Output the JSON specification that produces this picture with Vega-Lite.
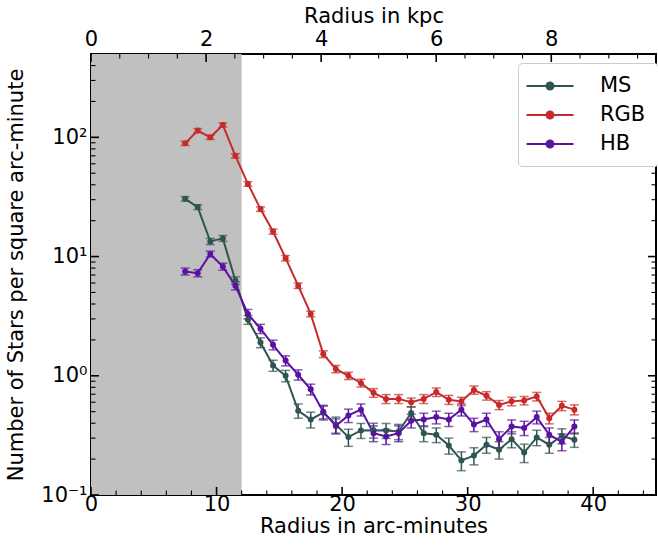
{
  "$schema": "https://vega.github.io/schema/vega-lite/v6.json",
  "autosize": {"type": "none"},
  "width": 565,
  "height": 441,
  "padding": {"left": 91, "top": 54, "right": 2, "bottom": 51},
  "config": {
    "view": {"stroke": "black", "strokeWidth": 2},
    "font": "DejaVu Sans",
    "axis": {"labelFont": "DejaVu Sans", "titleFont": "DejaVu Sans", "labelFontSize": 21, "titleFontSize": 21, "titleFontWeight": "normal", "labelColor": "black", "titleColor": "black", "ticks": false, "tickSize": 0, "domain": false, "grid": false, "labelOverlap": false, "labelFlush": false},
    "legend": {"labelFont": "DejaVu Sans", "labelFontSize": 21, "labelColor": "black"}
  },
  "datasets": {
    "shade": [{"a0": 0, "a1": 12}],
    "xmaj": [{"v": 0}, {"v": 10}, {"v": 20}, {"v": 30}, {"v": 40}],
    "xmin": [{"v": 2}, {"v": 4}, {"v": 6}, {"v": 8}, {"v": 12}, {"v": 14}, {"v": 16}, {"v": 18}, {"v": 22}, {"v": 24}, {"v": 26}, {"v": 28}, {"v": 32}, {"v": 34}, {"v": 36}, {"v": 38}, {"v": 42}, {"v": 44}],
    "kmaj": [{"k": 0}, {"k": 2}, {"k": 4}, {"k": 6}, {"k": 8}],
    "kmin": [{"k": 0.5}, {"k": 1}, {"k": 1.5}, {"k": 2.5}, {"k": 3}, {"k": 3.5}, {"k": 4.5}, {"k": 5}, {"k": 5.5}, {"k": 6.5}, {"k": 7}, {"k": 7.5}, {"k": 8.5}, {"k": 9}, {"k": 9.5}],
    "ymaj": [{"v": 0.1}, {"v": 1}, {"v": 10}, {"v": 100}],
    "ymin": [{"v": 0.2}, {"v": 0.3}, {"v": 0.4}, {"v": 0.5}, {"v": 0.6}, {"v": 0.7}, {"v": 0.8}, {"v": 0.9}, {"v": 2}, {"v": 3}, {"v": 4}, {"v": 5}, {"v": 6}, {"v": 7}, {"v": 8}, {"v": 9}, {"v": 20}, {"v": 30}, {"v": 40}, {"v": 50}, {"v": 60}, {"v": 70}, {"v": 80}, {"v": 90}, {"v": 200}, {"v": 300}, {"v": 400}],
    "profiles": [
      {"r": 7.5, "n": 30.5, "e": 1.3, "s": "MS"},
      {"r": 8.5, "n": 26, "e": 1.2, "s": "MS"},
      {"r": 9.5, "n": 13.4, "e": 0.8, "s": "MS"},
      {"r": 10.5, "n": 14.2, "e": 0.8, "s": "MS"},
      {"r": 11.5, "n": 6.3, "e": 0.45, "s": "MS"},
      {"r": 12.5, "n": 2.95, "e": 0.25, "s": "MS"},
      {"r": 13.5, "n": 1.9, "e": 0.18, "s": "MS"},
      {"r": 14.5, "n": 1.22, "e": 0.13, "s": "MS"},
      {"r": 15.5, "n": 1.0, "e": 0.11, "s": "MS"},
      {"r": 16.5, "n": 0.51, "e": 0.07, "s": "MS"},
      {"r": 17.5, "n": 0.43, "e": 0.065, "s": "MS"},
      {"r": 18.5, "n": 0.49, "e": 0.065, "s": "MS"},
      {"r": 19.5, "n": 0.39, "e": 0.06, "s": "MS"},
      {"r": 20.5, "n": 0.306, "e": 0.05, "s": "MS"},
      {"r": 21.5, "n": 0.348, "e": 0.05, "s": "MS"},
      {"r": 22.5, "n": 0.35, "e": 0.05, "s": "MS"},
      {"r": 23.5, "n": 0.348, "e": 0.05, "s": "MS"},
      {"r": 24.5, "n": 0.341, "e": 0.05, "s": "MS"},
      {"r": 25.5, "n": 0.487, "e": 0.06, "s": "MS"},
      {"r": 26.5, "n": 0.33, "e": 0.05, "s": "MS"},
      {"r": 27.5, "n": 0.32, "e": 0.045, "s": "MS"},
      {"r": 28.5, "n": 0.26, "e": 0.04, "s": "MS"},
      {"r": 29.5, "n": 0.195, "e": 0.035, "s": "MS"},
      {"r": 30.5, "n": 0.214, "e": 0.035, "s": "MS"},
      {"r": 31.5, "n": 0.264, "e": 0.04, "s": "MS"},
      {"r": 32.5, "n": 0.24, "e": 0.04, "s": "MS"},
      {"r": 33.5, "n": 0.294, "e": 0.045, "s": "MS"},
      {"r": 34.5, "n": 0.227, "e": 0.04, "s": "MS"},
      {"r": 35.5, "n": 0.304, "e": 0.045, "s": "MS"},
      {"r": 36.5, "n": 0.264, "e": 0.04, "s": "MS"},
      {"r": 37.5, "n": 0.314, "e": 0.045, "s": "MS"},
      {"r": 38.5, "n": 0.291, "e": 0.04, "s": "MS"},
      {"r": 7.5, "n": 89, "e": 3.5, "s": "RGB"},
      {"r": 8.5, "n": 114, "e": 4.5, "s": "RGB"},
      {"r": 9.5, "n": 100, "e": 4, "s": "RGB"},
      {"r": 10.5, "n": 127, "e": 5, "s": "RGB"},
      {"r": 11.5, "n": 70, "e": 3, "s": "RGB"},
      {"r": 12.5, "n": 40.7, "e": 1.8, "s": "RGB"},
      {"r": 13.5, "n": 25, "e": 1.1, "s": "RGB"},
      {"r": 14.5, "n": 16.2, "e": 0.8, "s": "RGB"},
      {"r": 15.5, "n": 9.7, "e": 0.5, "s": "RGB"},
      {"r": 16.5, "n": 5.7, "e": 0.3, "s": "RGB"},
      {"r": 17.5, "n": 3.3, "e": 0.18, "s": "RGB"},
      {"r": 18.5, "n": 1.52, "e": 0.1, "s": "RGB"},
      {"r": 19.5, "n": 1.14, "e": 0.08, "s": "RGB"},
      {"r": 20.5, "n": 1.0, "e": 0.07, "s": "RGB"},
      {"r": 21.5, "n": 0.87, "e": 0.065, "s": "RGB"},
      {"r": 22.5, "n": 0.72, "e": 0.06, "s": "RGB"},
      {"r": 23.5, "n": 0.64, "e": 0.055, "s": "RGB"},
      {"r": 24.5, "n": 0.64, "e": 0.055, "s": "RGB"},
      {"r": 25.5, "n": 0.6, "e": 0.05, "s": "RGB"},
      {"r": 26.5, "n": 0.64, "e": 0.055, "s": "RGB"},
      {"r": 27.5, "n": 0.73, "e": 0.06, "s": "RGB"},
      {"r": 28.5, "n": 0.63, "e": 0.055, "s": "RGB"},
      {"r": 29.5, "n": 0.61, "e": 0.05, "s": "RGB"},
      {"r": 30.5, "n": 0.76, "e": 0.06, "s": "RGB"},
      {"r": 31.5, "n": 0.68, "e": 0.055, "s": "RGB"},
      {"r": 32.5, "n": 0.57, "e": 0.05, "s": "RGB"},
      {"r": 33.5, "n": 0.61, "e": 0.05, "s": "RGB"},
      {"r": 34.5, "n": 0.62, "e": 0.05, "s": "RGB"},
      {"r": 35.5, "n": 0.67, "e": 0.055, "s": "RGB"},
      {"r": 36.5, "n": 0.44, "e": 0.045, "s": "RGB"},
      {"r": 37.5, "n": 0.56, "e": 0.05, "s": "RGB"},
      {"r": 38.5, "n": 0.52, "e": 0.05, "s": "RGB"},
      {"r": 7.5, "n": 7.5, "e": 0.5, "s": "HB"},
      {"r": 8.5, "n": 7.26, "e": 0.5, "s": "HB"},
      {"r": 9.5, "n": 10.5, "e": 0.6, "s": "HB"},
      {"r": 10.5, "n": 8.24, "e": 0.55, "s": "HB"},
      {"r": 11.5, "n": 5.7, "e": 0.45, "s": "HB"},
      {"r": 12.5, "n": 3.3, "e": 0.3, "s": "HB"},
      {"r": 13.5, "n": 2.48, "e": 0.22, "s": "HB"},
      {"r": 14.5, "n": 1.82, "e": 0.17, "s": "HB"},
      {"r": 15.5, "n": 1.34, "e": 0.13, "s": "HB"},
      {"r": 16.5, "n": 1.02, "e": 0.1, "s": "HB"},
      {"r": 17.5, "n": 0.77, "e": 0.08, "s": "HB"},
      {"r": 18.5, "n": 0.5, "e": 0.065, "s": "HB"},
      {"r": 19.5, "n": 0.38, "e": 0.055, "s": "HB"},
      {"r": 20.5, "n": 0.465, "e": 0.06, "s": "HB"},
      {"r": 21.5, "n": 0.52, "e": 0.06, "s": "HB"},
      {"r": 22.5, "n": 0.33, "e": 0.05, "s": "HB"},
      {"r": 23.5, "n": 0.31, "e": 0.045, "s": "HB"},
      {"r": 24.5, "n": 0.33, "e": 0.05, "s": "HB"},
      {"r": 25.5, "n": 0.42, "e": 0.055, "s": "HB"},
      {"r": 26.5, "n": 0.43, "e": 0.055, "s": "HB"},
      {"r": 27.5, "n": 0.45, "e": 0.055, "s": "HB"},
      {"r": 28.5, "n": 0.43, "e": 0.055, "s": "HB"},
      {"r": 29.5, "n": 0.52, "e": 0.06, "s": "HB"},
      {"r": 30.5, "n": 0.39, "e": 0.05, "s": "HB"},
      {"r": 31.5, "n": 0.43, "e": 0.055, "s": "HB"},
      {"r": 32.5, "n": 0.294, "e": 0.045, "s": "HB"},
      {"r": 33.5, "n": 0.376, "e": 0.05, "s": "HB"},
      {"r": 34.5, "n": 0.365, "e": 0.05, "s": "HB"},
      {"r": 35.5, "n": 0.45, "e": 0.055, "s": "HB"},
      {"r": 36.5, "n": 0.32, "e": 0.045, "s": "HB"},
      {"r": 37.5, "n": 0.28, "e": 0.045, "s": "HB"},
      {"r": 38.5, "n": 0.376, "e": 0.05, "s": "HB"}
    ]
  },
  "layer": [
    {
      "resolve": {"axis": {"x": "independent", "y": "independent"}},
      "layer": [
        {
          "data": {"name": "shade"},
          "mark": {"type": "rect", "color": "#c0c0c0"},
          "encoding": {
            "x": {"field": "a0", "type": "quantitative", "scale": {"domain": [0, 45], "nice": false, "zero": false},
              "axis": {"orient": "bottom", "title": "Radius in arc-minutes", "titlePadding": 1,
                "values": [0, 10, 20, 30, 40], "labelPadding": -2}},
            "x2": {"field": "a1"}
          }
        },
        {
          "data": {"name": "profiles"},
          "mark": {"type": "errorbar", "ticks": {"size": 9, "thickness": 1.5}, "thickness": 1.5},
          "encoding": {
            "x": {"field": "r", "type": "quantitative", "scale": {"domain": [0, 45], "nice": false, "zero": false}, "axis": null},
            "y": {"field": "n", "type": "quantitative", "scale": {"type": "log", "domain": [0.1, 500], "nice": false}, "axis": null},
            "yError": {"field": "e"},
            "color": {"field": "s", "type": "nominal", "scale": {"domain": ["MS", "RGB", "HB"], "range": ["#2f5552", "#c62a2a", "#5a12a0"]}}
          }
        },
        {
          "data": {"name": "profiles"},
          "mark": {"type": "line", "strokeWidth": 2, "point": {"filled": true, "size": 36}},
          "encoding": {
            "x": {"field": "r", "type": "quantitative", "scale": {"domain": [0, 45], "nice": false, "zero": false}, "axis": null},
            "y": {"field": "n", "type": "quantitative", "scale": {"type": "log", "domain": [0.1, 500], "nice": false},
              "axis": {"orient": "left", "title": "Number of Stars per square arc-minute", "titlePadding": 14,
                "values": [0.1, 1, 10, 100],
                "labelExpr": "datum.value == 0.1 ? '10⁻¹' : datum.value == 1 ? '10⁰' : datum.value == 10 ? '10¹' : '10²'",
                "labelPadding": 4}},
            "color": {"field": "s", "type": "nominal", "scale": {"domain": ["MS", "RGB", "HB"], "range": ["#2f5552", "#c62a2a", "#5a12a0"]},
              "legend": {"title": null, "orient": "none", "legendX": 427, "legendY": 9, "padding": 12, "zindex": 2,
                "strokeColor": "#cccccc", "fillColor": "white", "cornerRadius": 4,
                "symbolType": "M-2.35,0H2.35M0.35,0A0.35,0.35,0,1,1,-0.35,0A0.35,0.35,0,1,1,0.35,0",
                "symbolSize": 400, "symbolOffset": 9, "symbolStrokeWidth": 2, "symbolOpacity": 1, "labelOffset": 39, "rowPadding": 8,
                "encode": {"symbols": {"update": {"opacity": {"value": 1}, "fillOpacity": {"value": 1}, "strokeOpacity": {"value": 1}}}}}}
          }
        },
        {
          "data": {"name": "xmaj"},
          "mark": {"type": "tick", "orient": "vertical", "color": "black", "size": 16, "thickness": 1.6, "clip": true, "opacity": 1},
          "encoding": {
            "x": {"field": "v", "type": "quantitative", "scale": {"domain": [0, 45], "nice": false, "zero": false}, "axis": null},
            "y": {"datum": 0.1, "type": "quantitative", "scale": {"type": "log", "domain": [0.1, 500], "nice": false}, "axis": null}
          }
        },
        {
          "data": {"name": "xmin"},
          "mark": {"type": "tick", "orient": "vertical", "color": "black", "size": 9, "thickness": 1.1, "clip": true, "opacity": 1},
          "encoding": {
            "x": {"field": "v", "type": "quantitative", "scale": {"domain": [0, 45], "nice": false, "zero": false}, "axis": null},
            "y": {"datum": 0.1, "type": "quantitative", "scale": {"type": "log", "domain": [0.1, 500], "nice": false}, "axis": null}
          }
        },
        {
          "data": {"name": "ymaj"},
          "mark": {"type": "tick", "orient": "horizontal", "color": "black", "size": 16, "thickness": 1.6, "clip": true, "opacity": 1},
          "encoding": {
            "y": {"field": "v", "type": "quantitative", "scale": {"type": "log", "domain": [0.1, 500], "nice": false}, "axis": null},
            "x": {"datum": 0, "type": "quantitative", "scale": {"domain": [0, 45], "nice": false, "zero": false}, "axis": null}
          }
        },
        {
          "data": {"name": "ymin"},
          "mark": {"type": "tick", "orient": "horizontal", "color": "black", "size": 9, "thickness": 1.1, "clip": true, "opacity": 1},
          "encoding": {
            "y": {"field": "v", "type": "quantitative", "scale": {"type": "log", "domain": [0.1, 500], "nice": false}, "axis": null},
            "x": {"datum": 0, "type": "quantitative", "scale": {"domain": [0, 45], "nice": false, "zero": false}, "axis": null}
          }
        },
        {
          "data": {"name": "ymaj"},
          "mark": {"type": "tick", "orient": "horizontal", "color": "black", "size": 16, "thickness": 1.6, "clip": true, "opacity": 1},
          "encoding": {
            "y": {"field": "v", "type": "quantitative", "scale": {"type": "log", "domain": [0.1, 500], "nice": false}, "axis": null},
            "x": {"datum": 45, "type": "quantitative", "scale": {"domain": [0, 45], "nice": false, "zero": false}, "axis": null}
          }
        },
        {
          "data": {"name": "ymin"},
          "mark": {"type": "tick", "orient": "horizontal", "color": "black", "size": 9, "thickness": 1.1, "clip": true, "opacity": 1},
          "encoding": {
            "y": {"field": "v", "type": "quantitative", "scale": {"type": "log", "domain": [0.1, 500], "nice": false}, "axis": null},
            "x": {"datum": 45, "type": "quantitative", "scale": {"domain": [0, 45], "nice": false, "zero": false}, "axis": null}
          }
        }
      ]
    },
    {
      "data": {"name": "kmaj"},
      "mark": {"type": "tick", "orient": "vertical", "color": "black", "size": 16, "thickness": 1.6, "clip": true, "opacity": 1},
      "encoding": {
        "x": {"field": "k", "type": "quantitative", "scale": {"domain": [0, 9.82], "nice": false, "zero": false},
          "axis": {"orient": "top", "title": "Radius in kpc", "titlePadding": 2, "format": "d",
            "values": [0, 2, 4, 6, 8], "labelPadding": 5}},
        "y": {"datum": 500, "type": "quantitative", "scale": {"type": "log", "domain": [0.1, 500], "nice": false}, "axis": null}
      }
    },
    {
      "data": {"name": "kmin"},
      "mark": {"type": "tick", "orient": "vertical", "color": "black", "size": 9, "thickness": 1.1, "clip": true, "opacity": 1},
      "encoding": {
        "x": {"field": "k", "type": "quantitative", "scale": {"domain": [0, 9.82], "nice": false, "zero": false}, "axis": null},
        "y": {"datum": 500, "type": "quantitative", "scale": {"type": "log", "domain": [0.1, 500], "nice": false}, "axis": null}
      }
    }
  ],
  "resolve": {"scale": {"x": "independent"}}
}
